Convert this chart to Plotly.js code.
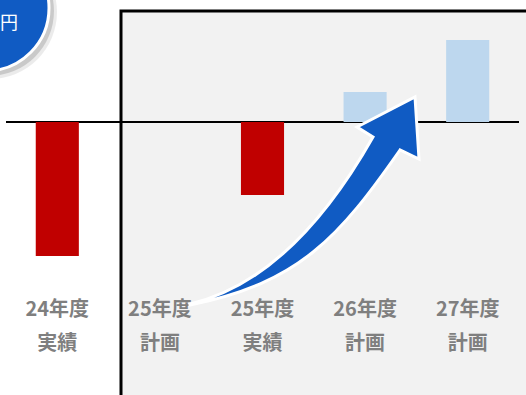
<!DOCTYPE html>
<html>
<head>
<meta charset="utf-8">
<script src="https://cdn.plot.ly/plotly-3.0.1.min.js"></script>
<style>
  html, body { margin: 0; padding: 0; background: #ffffff; }
  #chart { width: 526px; height: 395px; }
</style>
</head>
<body>
<div id="chart"></div>
<script>
// ---- data ----
const categories = ['24年度実績', '25年度計画', '25年度実績', '26年度計画', '27年度計画'];
const labelLine1 = ['24年度', '25年度', '25年度', '26年度', '27年度'];
const labelLine2 = ['実績', '計画', '実績', '計画', '計画'];
const values = [-13.4, null, -7.3, 3.0, 8.2];
const barColors = ['#c00000', '#c00000', '#c00000', '#bdd7ee', '#bdd7ee'];
const badgeText = '円';

// ---- layout helpers (pixel -> paper fraction) ----
const W = 526, H = 395, ML = 6, MR = 7;
const PW = W - ML - MR;
const px = x => (x - ML) / PW;
const py = y => 1 - y / H;
const P = (x, y) => px(x).toFixed(5) + ',' + py(y).toFixed(5);

const arrowPath =
  'M' + P(190, 304) +
  ' Q' + P(292, 280) + ' ' + P(373, 137) +
  ' L' + P(357, 127) +
  ' L' + P(415, 97) +
  ' L' + P(419, 159) +
  ' L' + P(400, 150) +
  ' C' + P(340, 236) + ' ' + P(300, 283) + ' ' + P(190, 305) + ' Z';

const labelFont = { family: '"Noto Sans CJK JP", "Noto Sans", sans-serif', size: 20, color: '#7f7f7f', weight: 'bold' };

const traces = [
  {
    type: 'bar',
    x: categories,
    y: values,
    width: 0.42,
    marker: { color: barColors, line: { width: 0 } },
    hoverinfo: 'skip',
    showlegend: false
  },
  {
    type: 'scatter',
    x: [], y: [],
    xaxis: 'x2',
    hoverinfo: 'skip',
    showlegend: false
  }
];

const layout = {
  width: W, height: H,
  margin: { l: ML, r: MR, t: 0, b: 0, pad: 0 },
  paper_bgcolor: '#ffffff',
  plot_bgcolor: 'rgba(0,0,0,0)',
  showlegend: false,
  xaxis: {
    type: 'category',
    categoryorder: 'array',
    categoryarray: categories,
    tickvals: categories,
    ticktext: labelLine1,
    range: [-0.5, 4.5],
    showgrid: false, zeroline: false, showline: false,
    ticks: '',
    ticklabelstandoff: 5,
    tickfont: labelFont,
    fixedrange: true
  },
  xaxis2: {
    type: 'linear',
    overlaying: 'x',
    anchor: 'y',
    side: 'bottom',
    range: [-0.5, 4.5],
    tickvals: [0, 1, 2, 3, 4],
    ticktext: labelLine2,
    showgrid: false, zeroline: false, showline: false,
    ticks: '',
    ticklabelstandoff: 39,
    tickfont: labelFont,
    fixedrange: true
  },
  yaxis: {
    domain: [1 - 290 / H, 1],
    range: [-16.8, 12.2],
    showgrid: false,
    showticklabels: false,
    ticks: '',
    showline: false,
    zeroline: true,
    zerolinecolor: '#000000',
    zerolinewidth: 2,
    fixedrange: true
  },
  shapes: [
    {
      type: 'rect', xref: 'paper', yref: 'paper', layer: 'below',
      x0: px(121), x1: px(540), y0: py(410), y1: py(11),
      fillcolor: '#f2f2f2',
      line: { color: '#000000', width: 3 }
    },
    // badge shadow
    {
      type: 'circle', xref: 'paper', yref: 'paper', layer: 'above',
      x0: px(-14 - 67 + 4), x1: px(-14 + 67 + 4), y0: py(8 + 67 + 4), y1: py(8 - 67 + 4),
      fillcolor: 'rgba(0,0,0,0.08)', line: { width: 0 }
    },
    {
      type: 'circle', xref: 'paper', yref: 'paper', layer: 'above',
      x0: px(-14 - 65 + 3), x1: px(-14 + 65 + 3), y0: py(8 + 65 + 3), y1: py(8 - 65 + 3),
      fillcolor: 'rgba(0,0,0,0.14)', line: { width: 0 }
    },
    // badge
    {
      type: 'circle', xref: 'paper', yref: 'paper', layer: 'above',
      x0: px(-14 - 63), x1: px(-14 + 63), y0: py(8 + 63), y1: py(8 - 63),
      fillcolor: '#105bc3',
      line: { color: '#ffffff', width: 3 }
    },
    // arrow
    {
      type: 'path', xref: 'paper', yref: 'paper', layer: 'above',
      path: arrowPath,
      fillcolor: '#105bc3',
      line: { color: '#ffffff', width: 3 }
    }
  ],
  annotations: [
    {
      xref: 'paper', yref: 'paper',
      x: px(19), y: py(21),
      xanchor: 'right', yanchor: 'middle',
      text: badgeText,
      showarrow: false,
      borderpad: 0,
      font: { family: '"Noto Sans CJK JP", sans-serif', size: 18, color: '#ffffff' }
    }
  ]
};

Plotly.newPlot('chart', traces, layout, { displayModeBar: false, staticPlot: true });
</script>
</body>
</html>
